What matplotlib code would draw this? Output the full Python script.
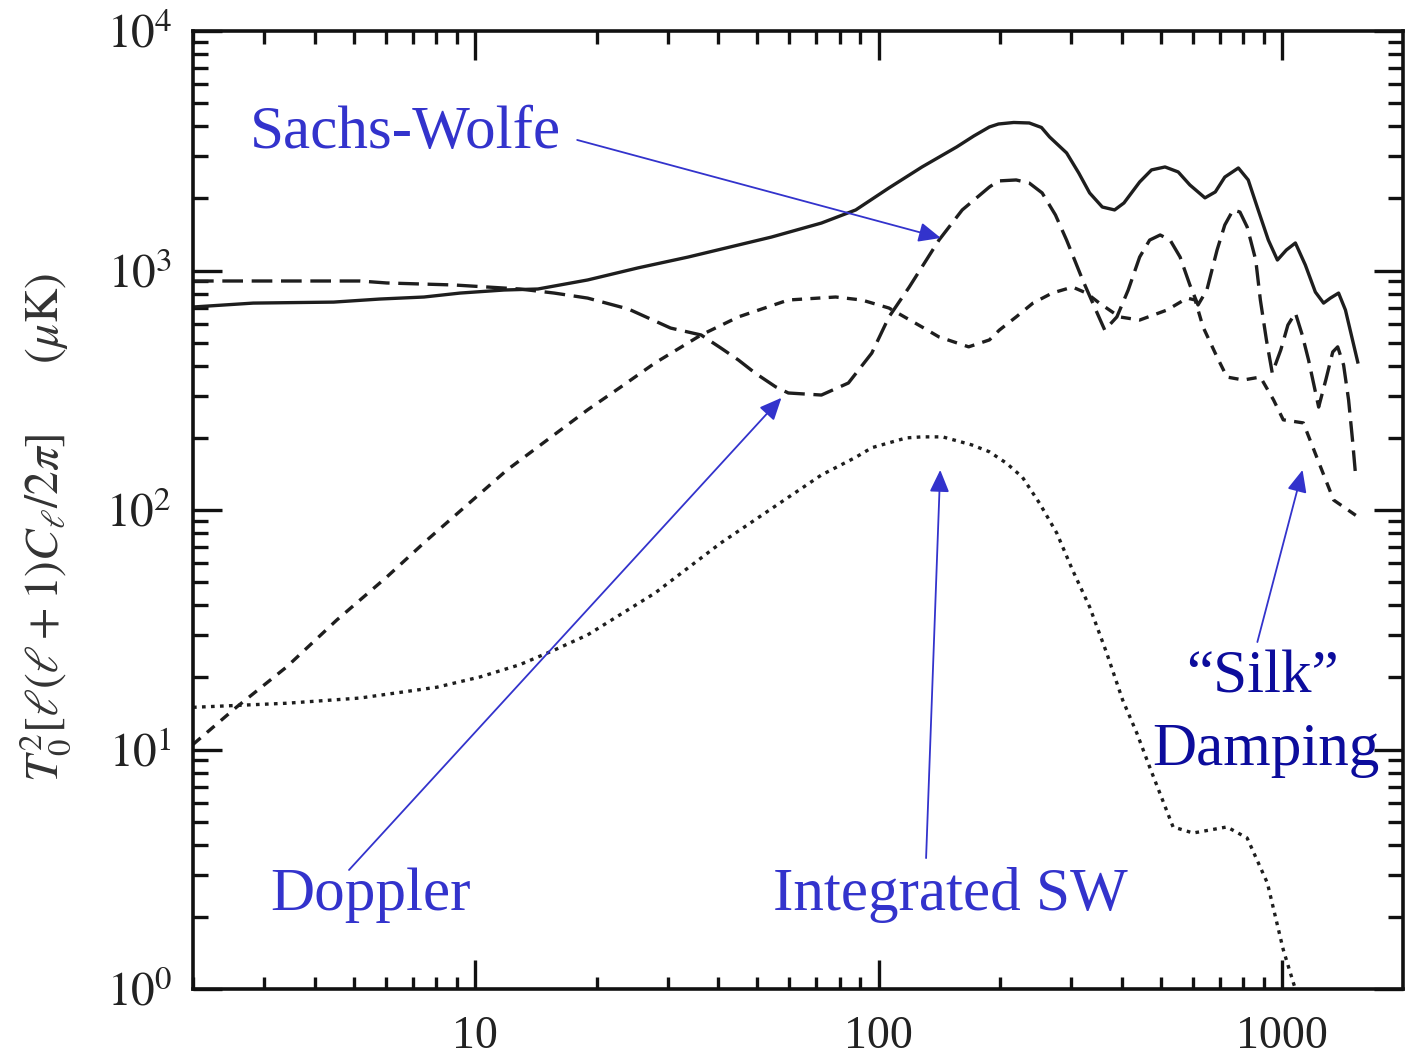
import numpy as np
import matplotlib
matplotlib.use("Agg")
import matplotlib.pyplot as plt
from matplotlib.ticker import FixedLocator, FuncFormatter, NullFormatter

plt.rcParams['font.family'] = 'serif'
plt.rcParams['font.serif'] = ['Liberation Serif', 'DejaVu Serif']
plt.rcParams['mathtext.fontset'] = 'stix'

# --- curves (multipole l, T0^2 l(l+1)Cl/2pi in uK) ---
total_ell = [2, 2.82, 4.46, 5.8, 7.47, 9.18, 11.8, 14.3, 19.0, 25.3, 33.7, 54.2, 72.1, 87.7,
             106, 128, 156, 172, 188, 198, 216, 236, 253, 265, 292, 313, 333, 358, 384, 405,
             443, 474, 512, 552, 590, 643, 682, 720, 778, 823, 871, 923, 972, 1023, 1077,
             1140, 1207, 1265, 1315, 1378, 1433, 1492, 1537]
total = [704, 731, 738, 760, 775, 805, 829, 837, 913, 1025, 1138, 1379, 1578, 1790,
         2212, 2706, 3280, 3645, 3975, 4090, 4150, 4130, 3955, 3610, 3097, 2553, 2108, 1841, 1790, 1914,
         2342, 2630, 2706, 2579, 2276, 2010, 2128, 2455, 2680, 2388, 1790, 1340, 1106, 1218, 1303,
         1054, 813, 731, 767, 805, 684, 513, 415]

sw_ell = [2, 5.18, 6.04, 8.87, 12.9, 15.7, 19.0, 24.0, 30.5, 36.3, 40.6, 44.9, 49.4, 55.5,
          59.7, 72.1, 84.1, 96.1, 106, 119, 141, 161, 188, 198, 219, 236, 254, 274, 292,
          320, 345, 363, 389, 415, 443, 469, 498, 527, 558, 590, 618, 650, 689, 720, 755,
          785, 818, 859, 882, 913, 944, 991, 1032, 1077, 1120, 1161, 1230, 1281, 1333, 1371,
          1418, 1459, 1492, 1520]
sw = [904, 904, 887, 870, 837, 805, 767, 690, 575, 538, 475, 423, 373, 327,
      308, 302, 339, 452, 640, 853, 1340, 1790, 2232, 2366, 2388, 2318, 2108, 1706, 1340,
      913, 684, 564, 640, 829, 1138, 1340, 1407, 1340, 1138, 870, 718, 829, 1218, 1549, 1790,
      1754, 1520, 1106, 753, 513, 373, 466, 592, 665, 538, 423, 269, 349, 457, 480,
      403, 288, 196, 137]

dop_ell = [2, 2.56, 3.41, 4.54, 6.04, 7.60, 12.0, 19.0, 23.0, 27.9, 36.3, 44.9, 59.7, 78.2,
           90.8, 106, 128, 141, 167, 188, 199, 219, 241, 269, 302, 327, 352, 395, 443, 518,
           581, 608, 636, 689, 729, 800, 882, 951, 1005, 1127, 1244, 1340, 1520]
dop = [10.5, 15.0, 22.1, 34.7, 52.5, 74.9, 147, 262, 327, 411, 538, 640, 753, 775,
       753, 697, 581, 528, 480, 513, 564, 640, 731, 805, 853, 805, 731, 640, 621, 684,
       767, 753, 581, 435, 359, 349, 359, 288, 238, 231, 151, 110, 95]

isw_ell = [2, 3.41, 5.18, 8.04, 10.3, 12.9, 15.7, 19.0, 27.9, 40.6, 59.7, 72.1, 87.7, 96.1,
           117, 128, 144, 170, 188, 207, 227, 250, 276, 302, 333, 367, 402, 436, 469, 536,
           601, 729, 818, 918, 1005, 1065, 1100]
isw = [15.0, 15.6, 16.4, 18.2, 20.1, 22.6, 26.0, 30.1, 45.0, 72.8, 113, 140, 166, 182,
       200, 202, 202, 187, 175, 157, 137, 107, 80.2, 56.2, 39.4, 25.3, 16.1, 11.7, 8.45, 4.75,
       4.48, 4.75, 4.27, 2.77, 1.46, 1.06, 0.9]

x_major = [10, 100, 1000]
x_labels = ['10', '100', '1000']
y_major = [1, 10, 100, 1000, 10000]

# annotation arrows: (tail, head) in data coords
arrows = {
    'Sachs-Wolfe': ((17.9, 3508), (142.5, 1367)),
    'Doppler': ((4.87, 3.14), (57.4, 294)),
    'Integrated SW': ((131, 3.52), (142, 147)),
    'Silk': ((867, 28.1), (1122, 147)),
}

BLUE = '#3333cc'
NAVY = '#0c0c9c'
INK = '#1e1e1e'

fig = plt.figure(figsize=(14.05, 10.57), dpi=100)
ax = fig.add_axes([193/1405, 1-989/1057, 1210/1405, 958/1057])
ax.set_xscale('log')
ax.set_yscale('log')
ax.set_xlim(2, 1990)
ax.set_ylim(1, 1e4)

lw = 2.4
ax.plot(total_ell, total, color=INK, lw=lw)
ax.plot(sw_ell, sw, color=INK, lw=lw, dashes=(6.2, 2.6))
ax.plot(dop_ell, dop, color=INK, lw=lw, dashes=(3.0, 2.5))
ax.plot(isw_ell, isw, color=INK, lw=lw, dashes=(1.1, 1.6))

# ticks
ax.xaxis.set_major_locator(FixedLocator(x_major))
ax.xaxis.set_major_formatter(FuncFormatter(lambda v, p: x_labels[x_major.index(v)] if v in x_major else ''))
xminor = [m * d for d in (1, 10, 100, 1000) for m in range(2, 10)]
ax.xaxis.set_minor_locator(FixedLocator(xminor))
ax.xaxis.set_minor_formatter(NullFormatter())
ax.yaxis.set_major_locator(FixedLocator(y_major))
ax.yaxis.set_major_formatter(FuncFormatter(lambda v, p: r'$10^{%d}$' % round(np.log10(v))))
yminor = [m * d for d in (1, 10, 100, 1000) for m in range(2, 10)]
ax.yaxis.set_minor_locator(FixedLocator(yminor))
ax.yaxis.set_minor_formatter(NullFormatter())

ax.tick_params(which='both', direction='in', top=True, right=True, color='#111111', width=2.4)
ax.tick_params(which='major', length=21)
ax.tick_params(axis='x', which='minor', length=9)
ax.tick_params(axis='y', which='minor', length=11)
ax.tick_params(axis='x', which='major', labelsize=33, pad=19, labelcolor='#222222')
ax.tick_params(axis='y', which='major', labelsize=34, pad=15, labelcolor='#222222')
for s in ax.spines.values():
    s.set_linewidth(2.6)
    s.set_color('#111111')

fig.text(45/1405, 1-527/1057, r'$T_0^2[\ell(\ell+1)C_\ell/2\pi]\qquad(\mu\mathrm{K})$',
         rotation=90, ha='center', va='center', fontsize=34, color='#333333')

# labels
tfs = 44
ax.text(0.0471, 0.878, 'Sachs-Wolfe', transform=ax.transAxes, fontsize=tfs, color=BLUE,
        ha='left', va='baseline')
ax.text(0.0636, 0.0825, 'Doppler', transform=ax.transAxes, fontsize=tfs, color=BLUE,
        ha='left', va='baseline')
ax.text(0.479, 0.0825, 'Integrated SW', transform=ax.transAxes, fontsize=tfs, color=BLUE,
        ha='left', va='baseline')
ax.text(0.8835, 0.309, '\u201cSilk\u201d', transform=ax.transAxes, fontsize=tfs, color=NAVY,
        ha='center', va='baseline')
ax.text(0.7926, 0.2338, 'Damping', transform=ax.transAxes, fontsize=tfs, color=NAVY,
        ha='left', va='baseline')

for name, (tail, head) in arrows.items():
    ax.annotate('', xy=head, xytext=tail,
                arrowprops=dict(arrowstyle='-|>,head_length=0.45,head_width=0.2',
                                color=BLUE, lw=1.3, mutation_scale=30,
                                shrinkA=0, shrinkB=0))

fig.savefig('out.png', dpi=100)
